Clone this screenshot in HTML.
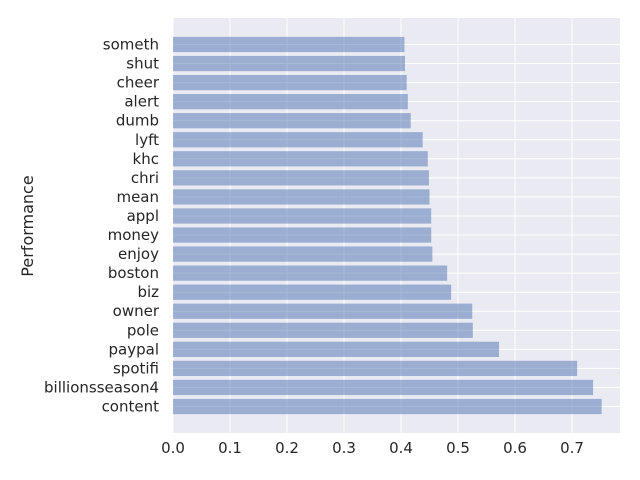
<!DOCTYPE html>
<html><head><meta charset="utf-8"><style>body{margin:0;background:#fff}svg{display:block;font-family:"DejaVu Sans","Liberation Sans",sans-serif}</style></head>
<body>
<svg id="chart" width="640" height="480">
<rect x="173" y="18" width="447" height="415" fill="#eaeaf2"/>
<g id="grid"></g><g id="bars"></g><g id="labels"></g>
<text x="33" y="226" transform="rotate(-90 33 226)" text-anchor="middle" font-size="16" fill="#262626">Performance</text>
</svg>
<script>
const categories=["content","billionsseason4","spotifi","paypal","pole","owner","biz","boston","enjoy","money","appl","mean","chri","khc","lyft","dumb","alert","cheer","shut","someth"];
const values=[0.752,0.737,0.709,0.572,0.526,0.525,0.488,0.481,0.455,0.453,0.453,0.450,0.449,0.447,0.438,0.417,0.412,0.410,0.407,0.406];
const xTicks=[0,0.1,0.2,0.3,0.4,0.5,0.6,0.7];
const xTickLabels=["0.0","0.1","0.2","0.3","0.4","0.5","0.6","0.7"];
const L=173,R=620,T=18,B=433;
const xMax=(R-L)/570;
const x=v=>L+v/xMax*(R-L);
const n=categories.length;
const yMin=-0.4-0.05*(n-0.2),yMax=n-0.6+0.05*(n-0.2);
const y=i=>B-(i-yMin)/(yMax-yMin)*(B-T);
const ns="http://www.w3.org/2000/svg";
function mk(t,a,p){const e=document.createElementNS(ns,t);for(const k in a)e.setAttribute(k,a[k]);p.appendChild(e);return e;}
const g=document.getElementById('grid'),bg=document.getElementById('bars'),lg=document.getElementById('labels');
xTicks.forEach((t,i)=>{
 const l=mk('line',{x1:x(t),x2:x(t),y1:T,y2:B,stroke:'#fff','stroke-width':1},g);
 
 
 const tx=mk('text',{x:x(t),y:B+20,'text-anchor':'middle','font-size':15,fill:'#262626'},lg);
 tx.textContent=xTickLabels[i];
 
 
});
categories.forEach((c,i)=>{
 const l=mk('line',{x1:L,x2:R,y1:y(i),y2:y(i),stroke:'#fff','stroke-width':1},g);
 
 
 const h=0.8*(B-T)/(yMax-yMin);
 const r=mk('rect',{x:L,y:y(i)-h/2,width:x(values[i])-L,height:h,fill:'#4c72b0','fill-opacity':0.5},bg);
 
 
 const tx=mk('text',{x:L-14,y:y(i)+5,'text-anchor':'end','font-size':15,fill:'#262626'},lg);
 tx.textContent=c;
 
 
});
</script>
</body></html>
